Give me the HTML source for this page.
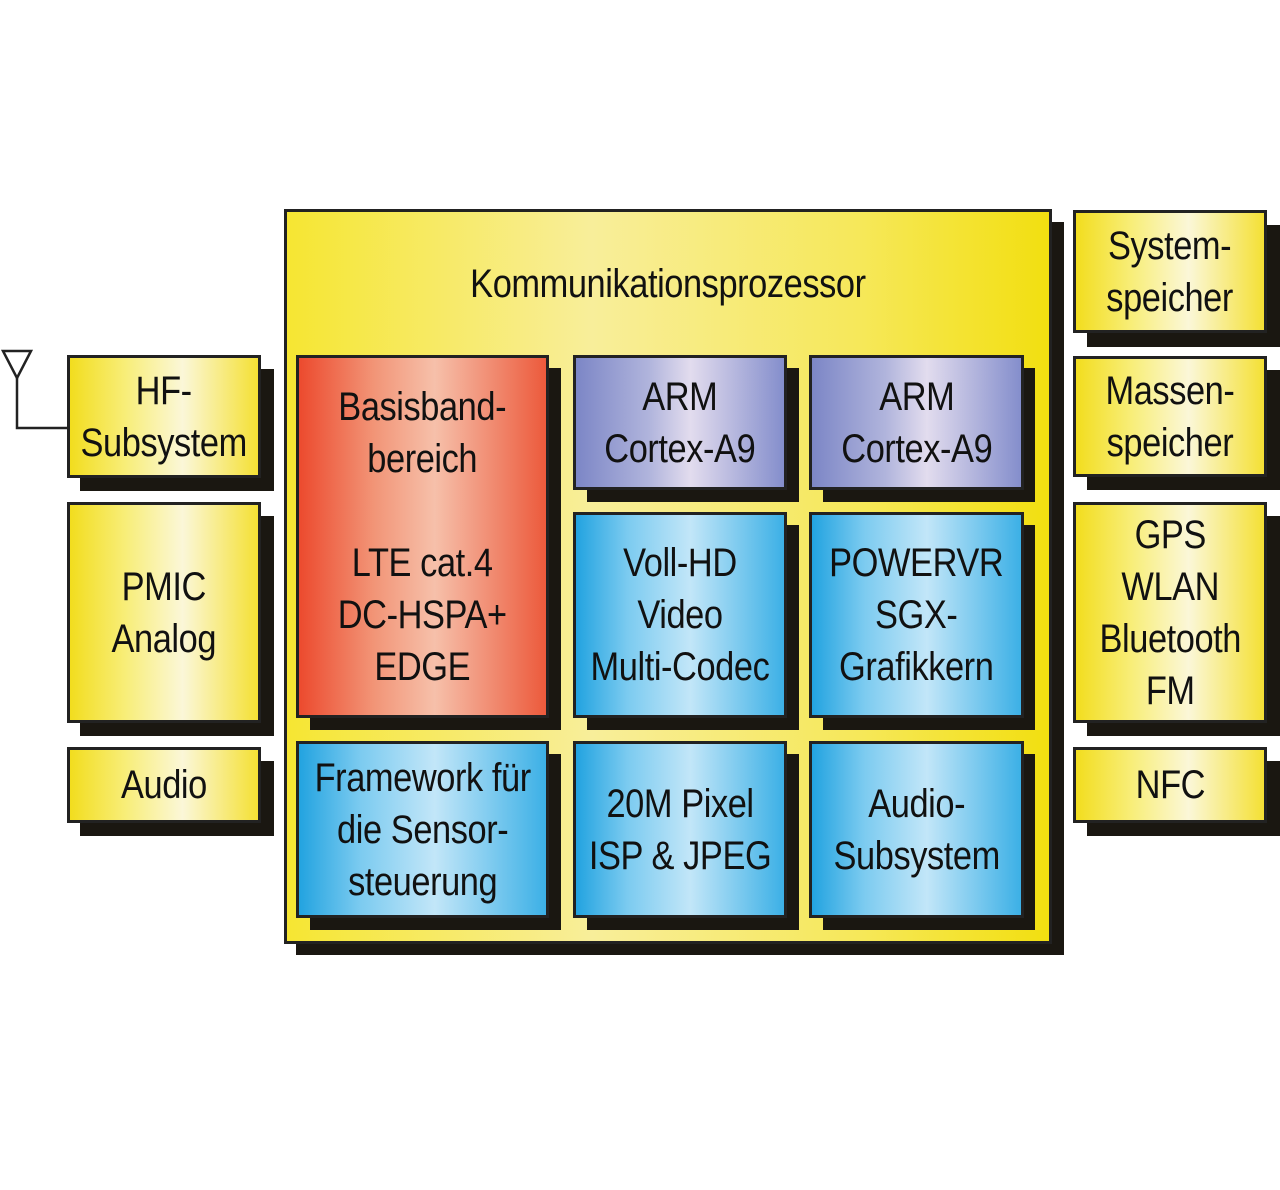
<!DOCTYPE html>
<html><head><meta charset="utf-8"><style>
html,body{margin:0;padding:0;background:#fff;width:1280px;height:1190px;overflow:hidden}
.b{position:absolute;box-sizing:border-box;border:3px solid #222;display:flex;align-items:center;justify-content:center;text-align:center;
font-family:"Liberation Sans Narrow","Liberation Sans",sans-serif;font-size:40px;line-height:52px;color:#111;letter-spacing:-0.5px}
.s{position:absolute;background:#1a1711}
.y{background:linear-gradient(90deg,#f2dd1e 0%,#f8ee7a 30%,#fbf7d8 60%,#f4e034 100%)}
.r{background:linear-gradient(90deg,#ec4a2e 0%,#f29476 30%,#f6c0aa 55%,#ec5a3c 100%)}
.p{background:linear-gradient(90deg,#7c86c6 0%,#b0b4dc 35%,#e2dcee 55%,#848ecc 100%)}
.c{background:linear-gradient(90deg,#22a3e0 0%,#7ccbf0 25%,#c2e6f8 55%,#3cb0e6 100%)}
.t{transform:scaleX(0.86);display:inline-block;white-space:nowrap}
</style></head><body>
<!-- main -->
<div class="s" style="left:296px;top:222px;width:768px;height:733px"></div>
<div class="b" style="left:284px;top:209px;width:768px;height:735px;background:linear-gradient(90deg,#f6e632 0%,#f8ee9a 40%,#f6e85a 75%,#f2df10 100%);align-items:flex-start;padding-top:46px"><span class="t">Kommunikationsprozessor</span></div>

<!-- inner boxes -->
<div class="s" style="left:310px;top:368px;width:251px;height:362px"></div>
<div class="b r" style="left:296px;top:355px;width:253px;height:363px"><span class="t">Basisband-<br>bereich<br><br>LTE cat.4<br>DC-HSPA+<br>EDGE</span></div>

<div class="s" style="left:587px;top:368px;width:212px;height:134px"></div>
<div class="b p" style="left:573px;top:355px;width:214px;height:135px"><span class="t">ARM<br>Cortex-A9</span></div>
<div class="s" style="left:823px;top:368px;width:212px;height:134px"></div>
<div class="b p" style="left:809px;top:355px;width:215px;height:135px"><span class="t">ARM<br>Cortex-A9</span></div>

<div class="s" style="left:587px;top:525px;width:212px;height:205px"></div>
<div class="b c" style="left:573px;top:512px;width:214px;height:206px"><span class="t">Voll-HD<br>Video<br>Multi-Codec</span></div>
<div class="s" style="left:823px;top:525px;width:212px;height:205px"></div>
<div class="b c" style="left:809px;top:512px;width:215px;height:206px"><span class="t">POWERVR<br>SGX-<br>Grafikkern</span></div>

<div class="s" style="left:310px;top:754px;width:251px;height:176px"></div>
<div class="b c" style="left:296px;top:741px;width:253px;height:177px"><span class="t">Framework für<br>die Sensor-<br>steuerung</span></div>
<div class="s" style="left:587px;top:754px;width:212px;height:176px"></div>
<div class="b c" style="left:573px;top:741px;width:214px;height:177px"><span class="t">20M Pixel<br>ISP &amp; JPEG</span></div>
<div class="s" style="left:823px;top:754px;width:212px;height:176px"></div>
<div class="b c" style="left:809px;top:741px;width:215px;height:177px"><span class="t">Audio-<br>Subsystem</span></div>

<!-- left -->
<div class="s" style="left:80px;top:369px;width:194px;height:122px"></div>
<div class="b y" style="left:67px;top:355px;width:194px;height:123px"><span class="t">HF-<br>Subsystem</span></div>
<div class="s" style="left:80px;top:516px;width:194px;height:220px"></div>
<div class="b y" style="left:67px;top:502px;width:194px;height:221px"><span class="t">PMIC<br>Analog</span></div>
<div class="s" style="left:80px;top:761px;width:194px;height:75px"></div>
<div class="b y" style="left:67px;top:747px;width:194px;height:76px"><span class="t">Audio</span></div>

<!-- right -->
<div class="s" style="left:1087px;top:225px;width:193px;height:122px"></div>
<div class="b y" style="left:1073px;top:210px;width:194px;height:123px"><span class="t">System-<br>speicher</span></div>
<div class="s" style="left:1087px;top:370px;width:193px;height:120px"></div>
<div class="b y" style="left:1073px;top:356px;width:194px;height:121px"><span class="t">Massen-<br>speicher</span></div>
<div class="s" style="left:1087px;top:516px;width:193px;height:220px"></div>
<div class="b y" style="left:1073px;top:502px;width:194px;height:221px"><span class="t">GPS<br>WLAN<br>Bluetooth<br>FM</span></div>
<div class="s" style="left:1087px;top:761px;width:193px;height:75px"></div>
<div class="b y" style="left:1073px;top:747px;width:194px;height:76px"><span class="t">NFC</span></div>

<!-- antenna -->
<svg style="position:absolute;left:0;top:340px" width="80" height="100">
<polygon points="3,11 31,11 17,38" fill="none" stroke="#222" stroke-width="2.5"/>
<polyline points="17,38 17,88 68,88" fill="none" stroke="#222" stroke-width="2.5"/>
</svg>
</body></html>
